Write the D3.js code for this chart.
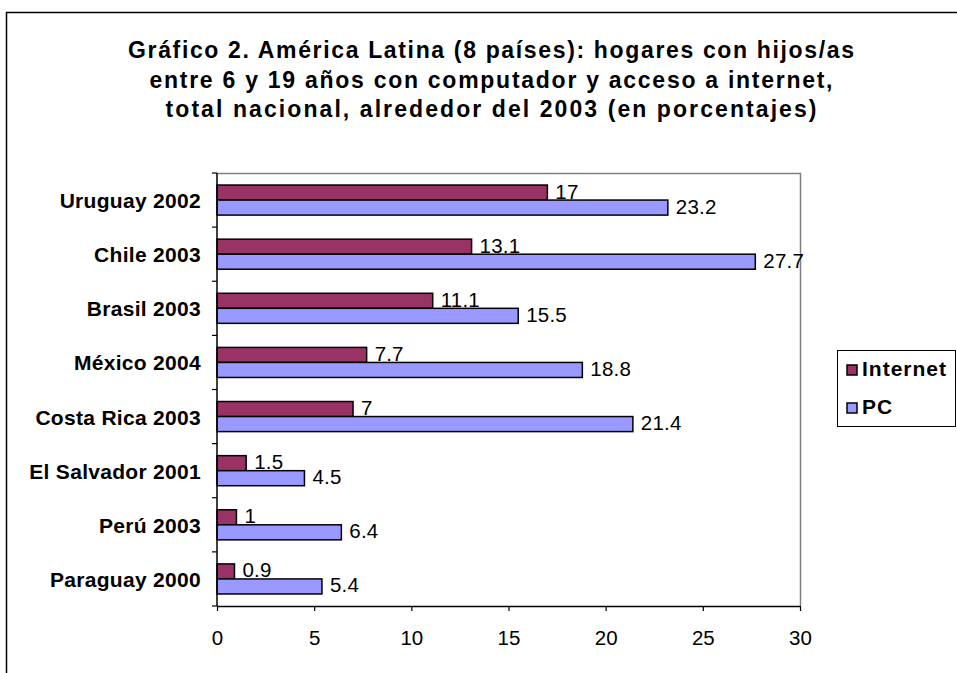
<!DOCTYPE html>
<html>
<head>
<meta charset="utf-8">
<script src="https://cdn.jsdelivr.net/npm/d3@7"></script>
<style>
  body { margin: 0; background: #fff; }
  svg { display: block; font-family: Arial, 'Liberation Sans', sans-serif; }
</style>
</head>
<body>
<div id="chart"></div>
<script>
const categories = ['Uruguay 2002', 'Chile 2003', 'Brasil 2003', 'México 2004', 'Costa Rica 2003', 'El Salvador 2001', 'Perú 2003', 'Paraguay 2000']
const series = ['Internet', 'PC']
const internet = [17, 13.1, 11.1, 7.7, 7, 1.5, 1, 0.9]
const pc = [23.2, 27.7, 15.5, 18.8, 21.4, 4.5, 6.4, 5.4]
const xTicks = [0, 5, 10, 15, 20, 25, 30]
const titleLines = [
  'Gráfico 2. América Latina (8 países): hogares con hijos/as',
  'entre 6 y 19 años con computador y acceso a internet,',
  'total nacional, alrededor del 2003 (en porcentajes)'
]
const colors = { Internet: '#993366', PC: '#9999FF' }

const width = 957
const height = 673
const plot = { left: 217, top: 173, right: 800, bottom: 606 }

const svg = d3.select('#chart').append('svg')
  .attr('width', width)
  .attr('height', height)

// outer chart frame (runs off the right and bottom edges)
svg.append('rect')
  .attr('x', 6.5)
  .attr('y', 12.5)
  .attr('width', 1000)
  .attr('height', 1000)
  .attr('fill', 'none')
  .attr('stroke', '#000')
  .attr('stroke-width', 1.5)

// title
const titleWidths = [726, 683, 651]
svg.append('g').selectAll('text')
  .data(titleLines)
  .enter().append('text')
  .attr('x', 491)
  .attr('y', function (d, i) { return 58 + i * 29.5 })
  .attr('text-anchor', 'middle')
  .attr('font-size', 23)
  .attr('font-weight', 'bold')
  .attr('textLength', function (d, i) { return titleWidths[i] })
  .attr('lengthAdjust', 'spacing')
  .text(function (d) { return d })

const rows = categories.map(function (c, i) {
  return { name: c, values: [{ key: 'Internet', v: internet[i] }, { key: 'PC', v: pc[i] }] }
})

const x = d3.scaleLinear().domain([0, 30]).range([plot.left, plot.right])
const y = d3.scaleBand().domain(categories).range([plot.top, plot.bottom])
const y1 = d3.scaleBand().domain(series).range([0, y.bandwidth()]).paddingInner(0).paddingOuter(0.8)

// plot area border (top/right grey)
svg.append('path')
  .attr('d', 'M' + plot.left + ',' + (plot.top + 0.5) + 'H' + (plot.right + 0.5) + 'V' + plot.bottom)
  .attr('fill', 'none')
  .attr('stroke', '#808080')
  .attr('stroke-width', 1.5)

const group = svg.append('g').selectAll('g')
  .data(rows)
  .enter().append('g')
  .attr('transform', function (d) { return 'translate(0,' + y(d.name) + ')' })

group.selectAll('rect')
  .data(function (d) { return d.values })
  .enter().append('rect')
  .attr('x', x(0))
  .attr('y', function (d) { return y1(d.key) })
  .attr('width', function (d) { return x(d.v) - x(0) })
  .attr('height', y1.bandwidth())
  .attr('fill', function (d) { return colors[d.key] })
  .attr('stroke', '#000')
  .attr('stroke-width', 1.5)

group.selectAll('text')
  .data(function (d) { return d.values })
  .enter().append('text')
  .attr('x', function (d) { return x(d.v) + 8 })
  .attr('y', function (d) { return y1(d.key) + y1.bandwidth() / 2 + 6 })
  .attr('font-size', 20.5)
  .attr('letter-spacing', 0.2)
  .text(function (d) { return d.v })

// y axis
const yAxis = svg.append('g')
  .attr('transform', 'translate(' + plot.left + ',0)')
yAxis.append('line')
  .attr('x1', 0).attr('x2', 0)
  .attr('y1', plot.top).attr('y2', plot.bottom)
  .attr('stroke', '#000').attr('stroke-width', 1.5)
yAxis.selectAll('.tick')
  .data(categories.concat(['end']))
  .enter().append('line')
  .attr('x1', -5).attr('x2', 0)
  .attr('y1', function (d, i) { return i < categories.length ? y(d) : plot.bottom })
  .attr('y2', function (d, i) { return i < categories.length ? y(d) : plot.bottom })
  .attr('stroke', '#000').attr('stroke-width', 1.2)
yAxis.selectAll('text')
  .data(categories)
  .enter().append('text')
  .attr('x', -16)
  .attr('y', function (d) { return y(d) + y.bandwidth() / 2 + 8 })
  .attr('text-anchor', 'end')
  .attr('font-size', 21)
  .attr('font-weight', 'bold')
  .attr('letter-spacing', 0.3)
  .text(function (d) { return d })

// x axis
const xAxis = svg.append('g')
  .attr('transform', 'translate(0,' + plot.bottom + ')')
  .call(d3.axisBottom(x).tickValues(xTicks).tickSize(5).tickSizeOuter(0).tickPadding(19))
xAxis.select('.domain').attr('stroke', '#000').attr('stroke-width', 1.5)
xAxis.selectAll('.tick line').attr('stroke', '#000').attr('stroke-width', 1.2)
xAxis.selectAll('.tick text')
  .attr('font-size', 20.5)
  .attr('font-family', 'Arial, Liberation Sans, sans-serif')
  .attr('fill', '#000')

// legend
const legend = svg.append('g')
legend.append('rect')
  .attr('x', 837.5).attr('y', 350.5)
  .attr('width', 118).attr('height', 76)
  .attr('fill', '#fff')
  .attr('stroke', '#000')
  .attr('stroke-width', 1)
const item = legend.selectAll('.item')
  .data(series)
  .enter().append('g')
  .attr('transform', function (d, i) { return 'translate(847,' + (365 + i * 38) + ')' })
item.append('rect')
  .attr('width', 10).attr('height', 10)
  .attr('fill', function (d) { return colors[d] })
  .attr('stroke', '#000')
  .attr('stroke-width', 1.5)
item.append('text')
  .attr('x', 15)
  .attr('y', 11)
  .attr('font-size', 21)
  .attr('font-weight', 'bold')
  .attr('letter-spacing', 1)
  .text(function (d) { return d })
</script>
</body>
</html>
